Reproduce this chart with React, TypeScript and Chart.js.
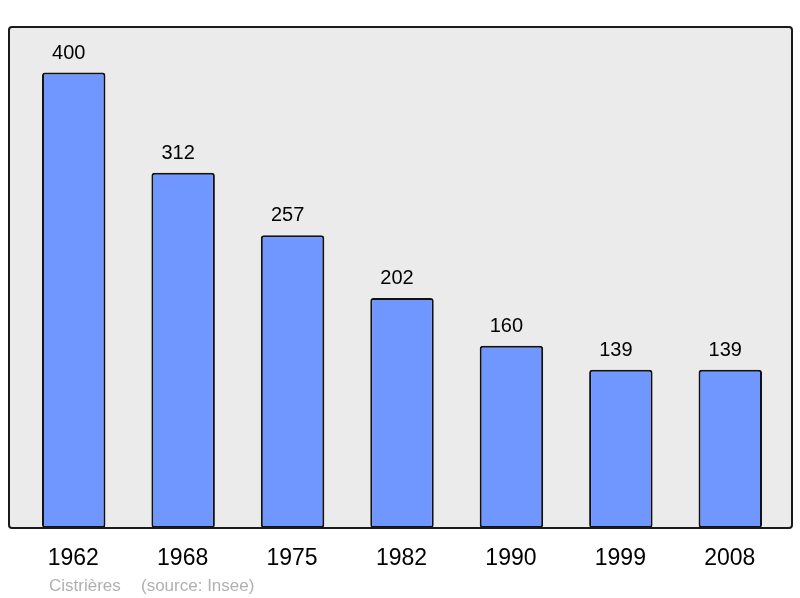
import { useEffect, useRef } from 'react';
import { Chart, registerables } from 'chart.js';
import type { Plugin } from 'chart.js';

Chart.register(...registerables);

// Datos de población
const years = ['1962', '1968', '1975', '1982', '1990', '1999', '2008'];
const population = [400, 312, 257, 202, 160, 139, 139];
const townName = 'Cistrières';
const sourceLabel = '(source: Insee)';

const FONT = '"Liberation Sans", Arial, sans-serif';

// Fondo gris con borde redondeado
const framePlugin: Plugin<'bar'> = {
  id: 'frame',
  beforeDatasetsDraw(chart) {
    const { ctx, chartArea } = chart;
    const l = chartArea.left - 10;
    const r = chartArea.right + 7;
    ctx.save();
    ctx.beginPath();
    ctx.roundRect(l, chartArea.top, r - l, chartArea.bottom - chartArea.top, 3);
    ctx.fillStyle = '#ebebeb';
    ctx.fill();
    ctx.restore();
  },
  afterDatasetsDraw(chart) {
    const { ctx, chartArea } = chart;
    const l = chartArea.left - 10;
    const r = chartArea.right + 7;
    ctx.save();
    ctx.beginPath();
    ctx.roundRect(l, chartArea.top, r - l, chartArea.bottom - chartArea.top, 3);
    ctx.lineWidth = 2;
    ctx.strokeStyle = '#1a1a1a';
    ctx.stroke();

    // Valores encima de las barras (ligeramente a la izquierda)
    const meta = chart.getDatasetMeta(0);
    ctx.fillStyle = '#000';
    ctx.font = `20px ${FONT}`;
    ctx.textAlign = 'center';
    ctx.textBaseline = 'alphabetic';
    meta.data.forEach((bar, i) => {
      ctx.fillText(String(population[i]), bar.x - 5, bar.y - 14);
    });

    // Años debajo
    const xScale = chart.scales.x;
    ctx.font = `23px ${FONT}`;
    years.forEach((y, i) => {
      ctx.fillText(y, xScale.getPixelForValue(i) - 0.5, chartArea.bottom + 37);
    });

    // Fuente
    ctx.font = `17px ${FONT}`;
    ctx.fillStyle = '#b0b0b0';
    ctx.textAlign = 'left';
    ctx.fillText(townName, l + 40, chartArea.bottom + 63);
    ctx.fillText(sourceLabel, l + 132, chartArea.bottom + 63);
    ctx.restore();
  }
};

export default function App() {
  const chartRef = useRef<HTMLCanvasElement>(null);
  const chartInstance = useRef<Chart | null>(null);

  useEffect(() => {
    document.body.style.margin = '0';
    if (!chartRef.current) return;
    const ctx = chartRef.current.getContext('2d');
    if (!ctx) return;

    chartInstance.current = new Chart(ctx, {
      type: 'bar',
      data: {
        labels: years,
        datasets: [{
          data: population,
          backgroundColor: '#7097ff',
          borderColor: '#111',
          borderWidth: 2,
          borderRadius: 3,
          borderSkipped: false,
          barPercentage: 0.58,
          categoryPercentage: 1
        }]
      },
      options: {
        responsive: true,
        maintainAspectRatio: false,
        animation: false,
        layout: {
          padding: { left: 19, right: 15, top: 27, bottom: 70 }
        },
        plugins: {
          legend: { display: false },
          tooltip: { enabled: false }
        },
        scales: {
          x: { display: false, offset: true },
          y: { display: false, min: 0, max: 440 }
        }
      },
      plugins: [framePlugin]
    });

    return () => {
      if (chartInstance.current) {
        chartInstance.current.destroy();
      }
    };
  }, []);

  return (
    <div style={{ position: 'relative', width: 800, height: 598 }}>
      <canvas ref={chartRef}></canvas>
    </div>
  );
}
